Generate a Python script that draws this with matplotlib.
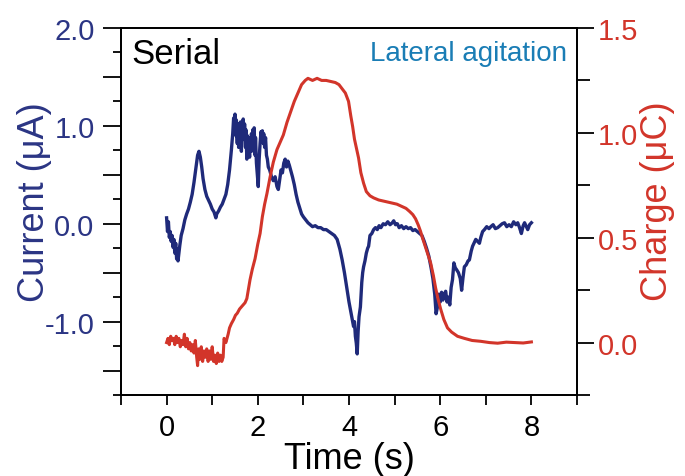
import matplotlib.pyplot as plt
from matplotlib.ticker import MultipleLocator

plt.rcParams['font.family'] = ['Liberation Sans', 'DejaVu Sans']
plt.rcParams['axes.unicode_minus'] = False

# current trace (uA)
cur_t = [0.00, 0.02, 0.04, 0.06, 0.08, 0.10, 0.12, 0.14, 0.16, 0.18, 0.20, 0.22, 0.23, 0.25, 0.27,
         0.29, 0.32, 0.36, 0.40, 0.44, 0.48, 0.52, 0.56, 0.60, 0.64, 0.68, 0.71, 0.74, 0.77, 0.80,
         0.84, 0.88, 0.92, 0.96, 1.00, 1.04, 1.08, 1.10, 1.14, 1.18, 1.22, 1.26, 1.30, 1.34, 1.38,
         1.42, 1.45, 1.47, 1.49, 1.50, 1.52, 1.53, 1.55, 1.56, 1.58, 1.59, 1.61, 1.62, 1.64, 1.65,
         1.67, 1.68, 1.70, 1.71, 1.73, 1.74, 1.76, 1.77, 1.79, 1.80, 1.82, 1.83, 1.85, 1.86, 1.88,
         1.89, 1.91, 1.92, 1.94, 1.95, 1.97, 1.99, 2.01, 2.03, 2.05, 2.07, 2.08, 2.10, 2.12, 2.13,
         2.15, 2.17, 2.19, 2.21, 2.23, 2.26, 2.30, 2.34, 2.38, 2.42, 2.45, 2.48, 2.51, 2.54, 2.57,
         2.60, 2.63, 2.66, 2.69, 2.72, 2.76, 2.80, 2.84, 2.88, 2.92, 2.96, 3.00, 3.05, 3.10, 3.15,
         3.20, 3.26, 3.32, 3.38, 3.44, 3.50, 3.56, 3.62, 3.68, 3.74, 3.80, 3.85, 3.90, 3.96, 4.00,
         4.04, 4.07, 4.10, 4.12, 4.14, 4.16, 4.18, 4.20, 4.22, 4.25, 4.28, 4.30, 4.32, 4.35, 4.38,
         4.41, 4.43, 4.46, 4.50, 4.54, 4.58, 4.62, 4.66, 4.70, 4.75, 4.80, 4.85, 4.90, 4.95, 4.98,
         5.02, 5.06, 5.10, 5.15, 5.20, 5.25, 5.30, 5.35, 5.40, 5.45, 5.50, 5.55, 5.60, 5.65, 5.70,
         5.75, 5.80, 5.84, 5.88, 5.91, 5.94, 5.97, 6.00, 6.03, 6.06, 6.09, 6.12, 6.15, 6.18, 6.21,
         6.24, 6.27, 6.30, 6.33, 6.36, 6.40, 6.44, 6.47, 6.50, 6.53, 6.57, 6.61, 6.64, 6.68, 6.71,
         6.75, 6.78, 6.82, 6.86, 6.89, 6.93, 6.97, 7.02, 7.07, 7.11, 7.16, 7.21, 7.26, 7.31, 7.36,
         7.41, 7.46, 7.51, 7.56, 7.61, 7.66, 7.70, 7.74, 7.78, 7.82, 7.85, 7.89, 7.92, 7.96, 8.00]
cur_i = [0.06, -0.08, 0.02, -0.14, -0.08, -0.18, -0.12, -0.24, -0.16, -0.30, -0.20, -0.36, -0.26, -0.38, -0.30,
         -0.22, -0.12, -0.05, 0.04, 0.10, 0.15, 0.22, 0.30, 0.42, 0.56, 0.70, 0.74, 0.68, 0.58, 0.46,
         0.35, 0.28, 0.24, 0.20, 0.15, 0.12, 0.06, 0.10, 0.13, 0.17, 0.20, 0.25, 0.30, 0.40, 0.55,
         0.75, 0.92, 1.08, 0.95, 1.12, 0.90, 1.06, 0.82, 1.02, 0.78, 1.00, 0.84, 1.04, 0.74, 0.98,
         0.86, 1.07, 0.88, 1.02, 0.78, 0.96, 0.66, 0.90, 0.72, 0.88, 0.68, 0.86, 0.74, 0.92, 0.78,
         0.96, 0.74, 0.98, 0.70, 0.88, 0.62, 0.50, 0.38, 0.66, 0.82, 0.94, 0.84, 0.95, 0.82, 0.92,
         0.78, 0.88, 0.70, 0.66, 0.58, 0.55, 0.48, 0.44, 0.48, 0.38, 0.35, 0.45, 0.55, 0.52, 0.62,
         0.66, 0.58, 0.64, 0.60, 0.55, 0.48, 0.40, 0.30, 0.22, 0.16, 0.10, 0.07, 0.04, 0.01, -0.01,
         -0.03, -0.02, -0.04, -0.04, -0.06, -0.06, -0.08, -0.10, -0.12, -0.16, -0.26, -0.37, -0.50, -0.68, -0.80,
         -0.90, -0.98, -1.05, -1.00, -1.15, -1.22, -1.33, -1.10, -0.95, -0.85, -0.60, -0.50, -0.44, -0.38, -0.30,
         -0.25, -0.23, -0.12, -0.10, -0.06, -0.04, -0.06, -0.02, -0.04, 0.00, -0.01, 0.02, -0.01, 0.01, 0.03,
         -0.01, 0.00, -0.04, -0.02, -0.05, -0.03, -0.05, -0.04, -0.07, -0.06, -0.08, -0.10, -0.12, -0.18, -0.25,
         -0.33, -0.45, -0.56, -0.72, -0.92, -0.85, -0.72, -0.80, -0.70, -0.78, -0.72, -0.69, -0.80, -0.75, -0.83,
         -0.65, -0.57, -0.40, -0.45, -0.47, -0.50, -0.56, -0.68, -0.55, -0.44, -0.42, -0.38, -0.37, -0.28, -0.23,
         -0.19, -0.16, -0.18, -0.20, -0.14, -0.08, -0.06, -0.03, -0.05, -0.03, -0.01, -0.05, -0.04, -0.02, 0.00,
         0.01, -0.03, -0.01, -0.03, 0.02, -0.01, 0.01, -0.04, -0.10, -0.02, 0.01, -0.03, -0.06, -0.01, 0.01]

# charge trace (uC)
chg_t = [0.00, 0.03, 0.06, 0.09, 0.12, 0.15, 0.18, 0.21, 0.24, 0.27, 0.30, 0.33, 0.36, 0.39, 0.42,
         0.45, 0.48, 0.51, 0.54, 0.57, 0.60, 0.63, 0.66, 0.68, 0.70, 0.73, 0.76, 0.79, 0.82, 0.85,
         0.88, 0.91, 0.94, 0.97, 1.00, 1.03, 1.06, 1.09, 1.12, 1.15, 1.18, 1.21, 1.24, 1.26, 1.30,
         1.35, 1.38, 1.42, 1.47, 1.51, 1.55, 1.60, 1.64, 1.68, 1.72, 1.76, 1.80, 1.83, 1.88, 1.94,
         2.00, 2.05, 2.10, 2.15, 2.20, 2.27, 2.34, 2.42, 2.50, 2.56, 2.64, 2.72, 2.80, 2.88, 2.96,
         3.04, 3.10, 3.20, 3.30, 3.40, 3.50, 3.60, 3.70, 3.78, 3.85, 3.92, 3.99, 4.04, 4.08, 4.12,
         4.16, 4.21, 4.26, 4.32, 4.38, 4.46, 4.54, 4.65, 4.75, 4.85, 4.95, 5.05, 5.15, 5.25, 5.33,
         5.40, 5.46, 5.52, 5.57, 5.61, 5.67, 5.73, 5.79, 5.85, 5.90, 5.95, 6.01, 6.08, 6.16, 6.25,
         6.38, 6.53, 6.70, 6.89, 7.08, 7.26, 7.45, 7.63, 7.82, 8.00]
chg_q = [0.00, 0.02, -0.01, 0.03, 0.01, 0.02, -0.01, 0.03, 0.00, 0.02, -0.02, 0.01, -0.01, 0.04, -0.02,
         0.02, -0.03, 0.00, -0.04, -0.01, -0.05, 0.01, -0.07, -0.11, -0.03, -0.08, -0.02, -0.09, -0.04, -0.07,
         -0.03, -0.09, -0.04, -0.08, -0.02, -0.09, -0.06, -0.10, -0.05, -0.09, -0.06, -0.09, -0.07, 0.02, 0.00,
         0.04, 0.07, 0.09, 0.11, 0.13, 0.14, 0.16, 0.17, 0.18, 0.19, 0.21, 0.26, 0.30, 0.35, 0.40,
         0.47, 0.52, 0.60, 0.66, 0.71, 0.79, 0.86, 0.92, 0.96, 0.99, 1.05, 1.10, 1.15, 1.19, 1.23,
         1.25, 1.26, 1.25, 1.26, 1.25, 1.25, 1.245, 1.24, 1.23, 1.21, 1.19, 1.15, 1.08, 1.03, 0.97,
         0.93, 0.88, 0.81, 0.76, 0.72, 0.70, 0.69, 0.68, 0.675, 0.67, 0.665, 0.66, 0.65, 0.64, 0.625,
         0.61, 0.59, 0.56, 0.53, 0.50, 0.46, 0.42, 0.38, 0.32, 0.26, 0.21, 0.16, 0.11, 0.07, 0.05,
         0.03, 0.02, 0.01, 0.006, 0.00, -0.003, 0.002, 0.00, -0.002, 0.003]

blue = '#1f2a7a'
red = '#d2352a'
label_blue = '#2b3584'

fig = plt.figure(figsize=(6.85, 4.77), dpi=100)
ax = fig.add_axes([121 / 685, 1 - 396 / 477, 456 / 685, 367 / 477])
ax2 = ax.twinx()

ax.plot(cur_t, cur_i, color=blue, lw=2.4)
ax2.plot(chg_t, chg_q, color=red, lw=2.2)

ax.set_xlim(-1, 9)
ax.set_ylim(-1.75, 2.0)
ax2.set_ylim(-0.25, 1.5)

ax.xaxis.set_major_locator(MultipleLocator(2))
ax.xaxis.set_minor_locator(MultipleLocator(1))
ax.set_yticks([-1.5, -1.0, -0.5, 0.0, 0.5, 1.0, 1.5, 2.0])
ax.set_yticklabels(['', '-1.0', '', '0.0', '', '1.0', '', '2.0'])
ax.yaxis.set_minor_locator(MultipleLocator(0.25))
ax2.set_yticks([0.0, 0.5, 1.0, 1.5])
ax2.set_yticklabels(['0.0', '0.5', '1.0', '1.5'])
ax2.yaxis.set_minor_locator(MultipleLocator(0.25))

ax.tick_params(axis='x', which='both', direction='out', length=7, width=1.3, labelsize=21, pad=6)
ax.tick_params(axis='y', which='major', direction='out', length=13, width=1.3, labelsize=21,
               labelcolor=label_blue, pad=6)
ax.tick_params(axis='y', which='minor', direction='out', length=6, width=1.3)
ax2.tick_params(axis='y', which='major', direction='out', length=12, width=1.3, labelsize=21,
                labelcolor=red, pad=3)
ax2.tick_params(axis='y', which='minor', direction='out', length=9, width=1.3)

for a in (ax, ax2):
    for s in a.spines.values():
        s.set_linewidth(1.3)

ax.set_xlabel('Time (s)', fontsize=26, labelpad=0)
ax.set_ylabel('Current (μA)', fontsize=26, color=label_blue)
ax2.set_ylabel('Charge (μC)', fontsize=26, color=red)
ax.yaxis.set_label_coords(-0.152, 0.529)
ax2.yaxis.set_label_coords(1.138, 0.531)

ax.text(0.022, 0.975, 'Serial', transform=ax.transAxes, fontsize=25, va='top', ha='left')
ax.text(0.978, 0.968, 'Lateral agitation', transform=ax.transAxes, fontsize=20,
        va='top', ha='right', color='#1a7db5')

fig.savefig('out.png', dpi=100)
